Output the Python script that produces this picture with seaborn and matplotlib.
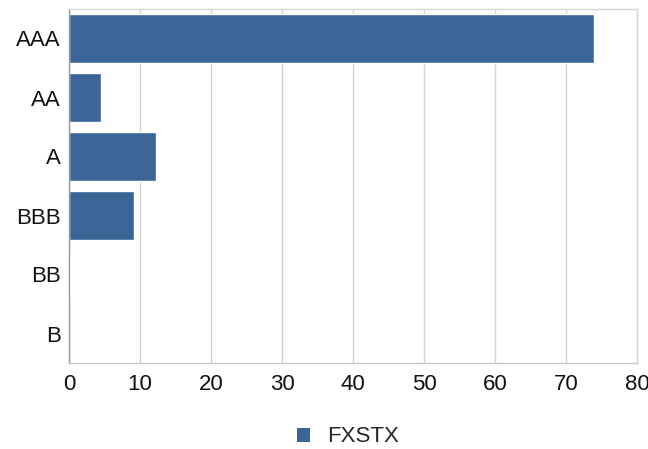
import matplotlib
matplotlib.use("Agg")
import matplotlib.pyplot as plt
import seaborn as sns
import pandas as pd
from matplotlib.patches import Patch

categories = ["AAA", "AA", "A", "BBB", "BB", "B"]
values = [73.9, 4.5, 12.25, 9.15, 0.15, 0.0]
series_name = "FXSTX"
xticks = [0, 10, 20, 30, 40, 50, 60, 70, 80]

df = pd.DataFrame({"rating": categories, "pct": values})

sns.set_theme(style="white")
plt.rcParams["font.family"] = ["Liberation Sans", "DejaVu Sans"]

fig = plt.figure(figsize=(6.48, 4.49), dpi=100)
ax = fig.add_axes([69/648, 1 - 363/449, (637-69)/648, (363-9)/449])

color = "#3b6596"
sns.barplot(data=df, x="pct", y="rating", order=categories, color=color,
            saturation=1, width=0.82, ax=ax)

ax.set_xlim(0, 80)
ax.set_xticks(xticks)
ax.set_xticklabels([str(t) for t in xticks], fontsize=16, color="#111111")
ax.tick_params(axis="y", labelsize=16, labelcolor="#111111", length=0, pad=6)
ax.tick_params(axis="x", length=0, pad=8)
ax.set_xlabel("")
ax.set_ylabel("")
ax.grid(axis="x", color="#d4d4d4", linewidth=1)
ax.set_axisbelow(True)
for s in ["top", "right"]:
    ax.spines[s].set_visible(True)
    ax.spines[s].set_color("#d4d4d4")
ax.spines["bottom"].set_color("#c8c8c8")
ax.spines["left"].set_color("#999999")
for s in ax.spines.values():
    s.set_linewidth(1)

handles = [Patch(facecolor=color, edgecolor="none", label=series_name)]
fig.legend(handles=handles, loc="center", bbox_to_anchor=(348/648, 1 - 437/449),
           frameon=False, fontsize=16, handlelength=0.6, handleheight=0.6, handletextpad=0.8)

fig.savefig("out.png", dpi=100)
